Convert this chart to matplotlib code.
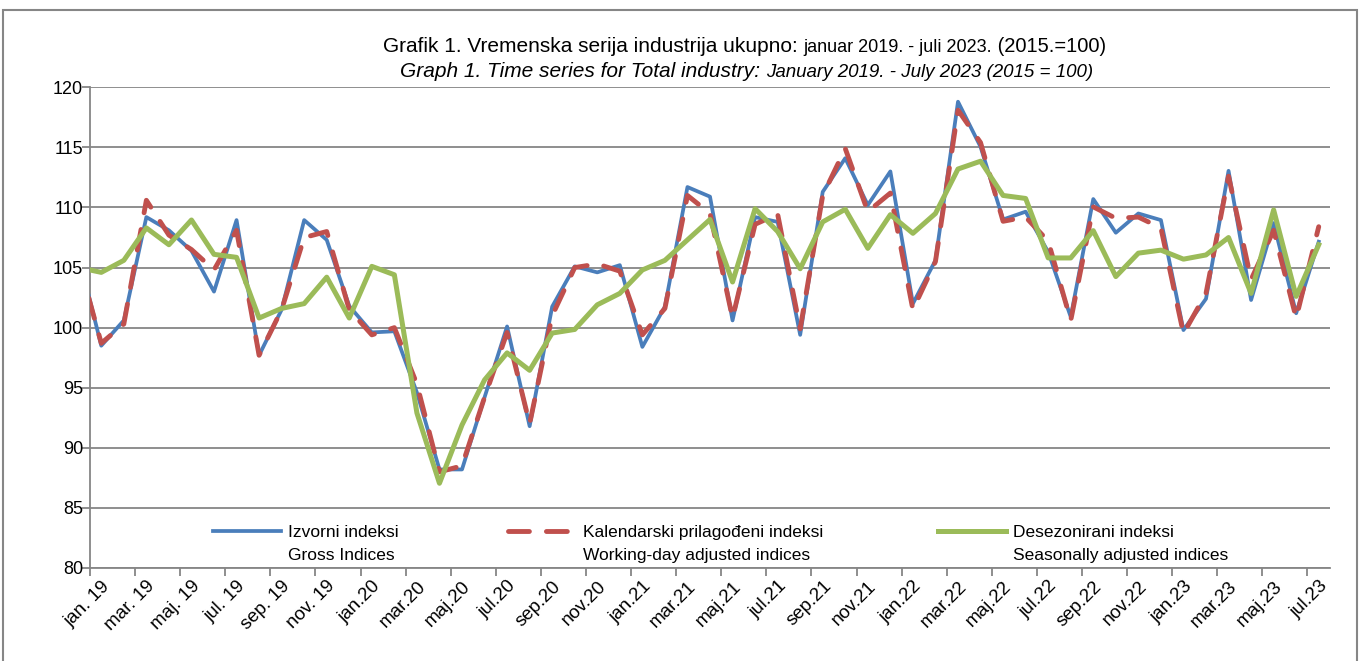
import numpy as np
import matplotlib
matplotlib.use("Agg")
import matplotlib.pyplot as plt
from matplotlib import font_manager
from matplotlib.patches import Rectangle

# index -1 = dec.18 (only the clipped stub at the left edge is visible)
gross = [106.0,
         98.5, 100.6, 109.2, 108.1, 106.4, 103.0, 108.95, 97.7, 101.5, 108.95, 107.3, 101.8,
         99.6, 99.7, 94.6, 88.2, 88.2, 94.2, 100.1, 91.8, 101.75, 105.1, 104.6, 105.2,
         98.4, 101.75, 111.7, 110.9, 100.6, 109.2, 108.8, 99.4, 111.3, 114.1, 110.2, 113.0,
         102.0, 105.6, 118.8, 115.05, 109.0, 109.65, 106.3, 100.9, 110.7, 107.9, 109.5, 108.95,
         99.8, 102.4, 113.05, 102.3, 108.7, 101.2, 107.15]
wda = [105.5,
       98.7, 100.3, 110.6, 107.7, 106.5, 104.8, 108.1, 97.7, 101.5, 107.5, 108.0, 101.5,
       99.4, 100.0, 95.3, 88.0, 88.5, 94.2, 99.6, 92.0, 101.0, 105.0, 105.3, 104.7,
       99.4, 101.6, 111.0, 109.5, 100.8, 108.6, 109.45, 99.9, 111.0, 114.9, 109.65, 111.2,
       101.5, 105.5, 118.1, 115.4, 108.85, 109.2, 107.2, 100.6, 110.05, 109.1, 109.2, 108.3,
       99.5, 102.85, 112.6, 104.0, 108.1, 100.8, 108.4]
sa = [105.0,
      104.6, 105.6, 108.3, 106.9, 108.96, 106.1, 105.85, 100.8, 101.6, 102.0, 104.2, 100.8,
      105.1, 104.4, 92.9, 87.05, 91.9, 95.65, 97.9, 96.45, 99.55, 99.85, 101.9, 102.85,
      104.8, 105.6, 107.3, 109.0, 103.8, 109.9, 108.0, 104.9, 108.8, 109.85, 106.6, 109.4,
      107.85, 109.5, 113.2, 113.85, 111.0, 110.75, 105.8, 105.8, 108.07, 104.25, 106.2, 106.45,
      105.7, 106.05, 107.5, 102.85, 109.8, 102.6, 106.9]

tick_labels = ["jan. 19", "mar. 19", "maj. 19", "jul. 19", "sep. 19", "nov. 19",
               "jan.20", "mar.20", "maj.20", "jul.20", "sep.20", "nov.20",
               "jan.21", "mar.21", "maj.21", "jul.21", "sep.21", "nov.21",
               "jan.22", "mar.22", "maj.22", "jul.22", "sep.22", "nov.22",
               "jan.23", "mar.23", "maj.23", "jul.23"]

names_local = ["Izvorni indeksi", "Kalendarski prilagođeni indeksi", "Desezonirani indeksi"]
names_en = ["Gross Indices", "Working-day adjusted indices", "Seasonally adjusted indices"]

installed = {f.name for f in font_manager.fontManager.ttflist}
narrow = "Liberation Sans Narrow" if "Liberation Sans Narrow" in installed else "Liberation Sans"
plt.rcParams["font.family"] = ["Liberation Sans", "DejaVu Sans"]

GRID = "#868686"
W, H = 1360, 661

fig = plt.figure(figsize=(13.6, 6.61), dpi=100)
ax = fig.add_axes([90 / W, 1 - 568 / H, 1240 / W, (568 - 87.3) / H])

x = np.arange(-1, len(gross) - 1)
l1, = ax.plot(x, gross, color="#4A7EBB", lw=2.7, solid_joinstyle="round", zorder=3)
l2, = ax.plot(x, wda, color="#C0504D", lw=3.5, dashes=(4.3, 3.5),
              dash_capstyle="round", zorder=4)
l3, = ax.plot(x, sa, color="#9BBB59", lw=3.6, solid_joinstyle="round", zorder=5)

ax.set_xlim(-0.5, 54.5)
ax.set_ylim(80, 120)
ax.set_yticks(np.arange(80, 121, 5))
ax.yaxis.grid(True, color=GRID, lw=1.3)
ax.set_axisbelow(True)
for s in ["top", "right"]:
    ax.spines[s].set_visible(False)
for s in ["left", "bottom"]:
    ax.spines[s].set_color(GRID)
    ax.spines[s].set_linewidth(1.3)

ax.set_xticks(np.arange(0, 55, 2))
ax.set_xticklabels(tick_labels, rotation=45, ha="right", va="top",
                   rotation_mode="anchor", fontsize=13.5)
ax.set_xticks(np.arange(-0.5, 54, 2), minor=True)
ax.tick_params(axis="x", which="major", length=0, pad=7)
ax.tick_params(axis="x", which="minor", length=6, width=1.3, color=GRID)
ax.tick_params(axis="y", length=6, width=1.3, color=GRID, labelsize=13, pad=-1)

# legend: three separate blocks, second line of each label set under the first
for k, (line, xpos) in enumerate(zip([l1, l2, l3], [213, 508, 938])):
    lg = ax.legend([line], [names_local[k]], loc="upper left",
                   bbox_to_anchor=(xpos / W, 1 - 525 / H), bbox_transform=fig.transFigure,
                   frameon=False, borderpad=0, borderaxespad=0, fontsize=12.5,
                   handlelength=3.9, handletextpad=0.42)
    ax.add_artist(lg)
    ax.annotate(names_en[k], xy=(0, 0), xycoords=lg.get_texts()[0],
                xytext=(0, -5.5), textcoords="offset points",
                fontsize=12.5, va="top", ha="left", zorder=10)
ax.legend_ = None

# title, mixed sizes on each line
t1 = fig.text(383 / W, 1 - 56 / H, "Grafik 1. Vremenska serija industrija ukupno: ",
              fontsize=15, va="bottom", ha="left")
t2 = ax.annotate("januar 2019. - juli 2023.", xy=(1, 0), xycoords=t1,
                 fontsize=13, family=[narrow, "DejaVu Sans"], va="bottom", ha="left")
ax.annotate(" (2015.=100)", xy=(1, 0), xycoords=t2, fontsize=14.5, va="bottom", ha="left")
t3 = fig.text(400 / W, 1 - 81 / H, "Graph 1. Time series for Total industry: ",
              fontsize=15, style="italic", va="bottom", ha="left")
ax.annotate("January 2019. - July 2023 (2015 = 100)", xy=(1, 0), xycoords=t3,
            fontsize=13.5, style="italic", family=[narrow, "DejaVu Sans"],
            va="bottom", ha="left")

fig.patches.append(Rectangle((3 / W, -0.05), 1354 / W, 1.05 - 10 / H, fill=False,
                             edgecolor=GRID, lw=1.5, transform=fig.transFigure))

fig.savefig("out.png", dpi=100)
